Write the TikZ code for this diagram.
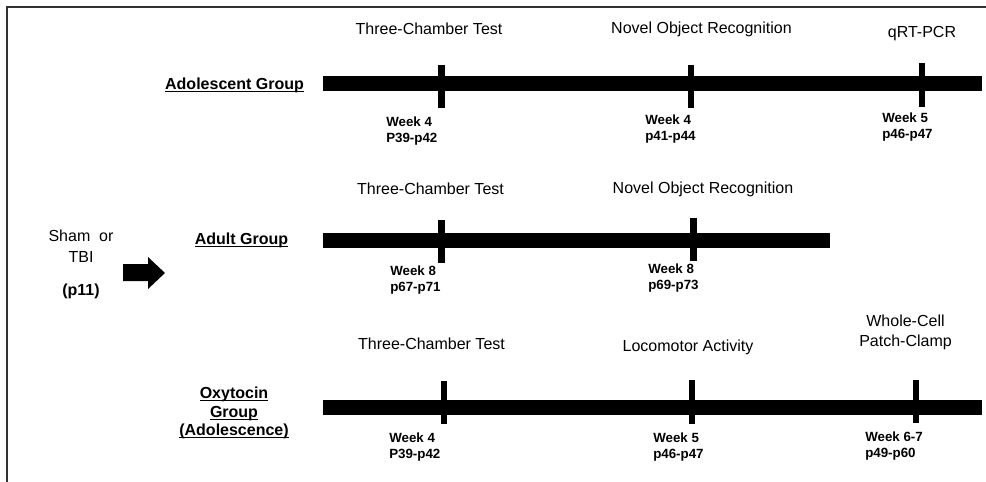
\documentclass[tikz,border=0pt]{standalone}
\usepackage{fontspec}
\setmainfont{Liberation Sans}
\usetikzlibrary{positioning}
\newcommand{\grpul}[1]{\setbox0\hbox{#1}\rlap{\rule[-1.8pt]{\wd0}{0.9pt}}\box0}

\begin{document}
\begin{tikzpicture}[x=0.75pt, y=-0.75pt,
  bar/.style={line width=11.25pt},
  tickmark/.style={fill, inner sep=0, minimum width=5pt, minimum height=32.5pt},
  test/.style={inner sep=0, anchor=north, align=center, font=\fontsize{12}{15}\selectfont},
  when/.style={inner sep=0, anchor=north west, align=left, font=\fontsize{10}{11.6}\selectfont\bfseries},
  group/.style={inner sep=0, anchor=north, align=center, font=\fontsize{12}{13.9}\selectfont\bfseries}]
\useasboundingbox (0,0) rectangle (986,482);
\draw[black!80, line width=1.5pt] (7,482) -- (7,7) -- (986,7);

% left side
\node[test, font=\fontsize{12}{15.75}\selectfont] (sham) at (81,230) {Sham~~or\\TBI};
\node[group] (p11) at (81,284) {(p11)};
\fill (123,264) -- (148,264) -- (148,257) -- (165,273) -- (148,289) -- (148,281) -- (123,281) -- cycle;

% adolescent group
\node[group] (G1) at (234.5,78) {\grpul{Adolescent Group}};
\coordinate (A0) at (323,83.5);
\coordinate (A1) at (982,83.5);
\draw[bar] (A0) -- (A1);
\node[tickmark] (A1a) at (441.5,86.5) {};
\node[tickmark] (A1b) at (691,86.5) {};
\node[tickmark] (A1c) at (922,85) {};
\node[test] (T1a) at (429,22.5) {Three-Chamber Test};
\node[test] (T1b) at (701.5,22) {Novel Object Recognition};
\node[test] (T1c) at (922,26.5) {qRT-PCR};
\node[when] (W1a) at (386,117) {Week 4\\P39-p42};
\node[when] (W1b) at (645,115) {Week 4\\p41-p44};
\node[when] (W1c) at (882,113) {Week 5\\p46-p47};

% adult group
\node[group] (G2) at (241.5,233) {\grpul{Adult Group}};
\coordinate (B0) at (323,240);
\coordinate (B1) at (830,240);
\draw[bar] (B0) -- (B1);
\node[tickmark] (B1a) at (441.5,241.5) {};
\node[tickmark] (B1b) at (693.5,239.5) {};
\node[test] (T2a) at (430.5,183) {Three-Chamber Test};
\node[test] (T2b) at (703,182) {Novel Object Recognition};
\node[when] (W2a) at (390,266) {Week 8\\p67-p71};
\node[when] (W2b) at (648,264) {Week 8\\p69-p73};

% oxytocin group
\node[group] (G3) at (234,387) {\grpul{Oxytocin}\\\grpul{Group}\\\grpul{(Adolescence)}};
\coordinate (C0) at (323,407.5);
\coordinate (C1) at (982,407.5);
\draw[bar] (C0) -- (C1);
\node[tickmark] (C1a) at (444,402.5) {};
\node[tickmark] (C1b) at (692,402) {};
\node[tickmark] (C1c) at (916,401.5) {};
\node[test] (T3a) at (431.5,338) {Three-Chamber Test};
\node[test] (T3b) at (688,340) {Locomotor Activity};
\node[test] (T3c) at (905.5,315) {Whole-Cell\\Patch-Clamp};
\node[when] (W3a) at (389,433) {Week 4\\P39-p42};
\node[when] (W3b) at (653,433) {Week 5\\p46-p47};
\node[when] (W3c) at (865,432) {Week 6-7\\p49-p60};
\end{tikzpicture}
\end{document}
